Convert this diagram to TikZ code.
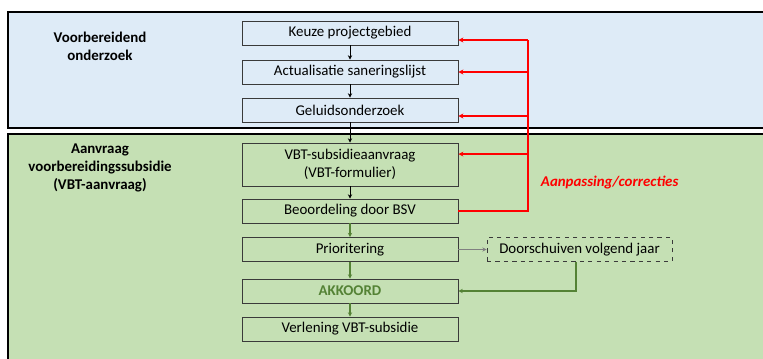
\documentclass[tikz,border=0pt]{standalone}
\usepackage{fontspec}
\setmainfont{Carlito}
\usepackage{xcolor}
\usepackage{tikz}
\usetikzlibrary{arrows.meta,positioning,calc}
\definecolor{PanelBlue}{HTML}{DEEBF7}
\definecolor{PanelGreen}{HTML}{C5E0B4}
\definecolor{OkGreen}{HTML}{548235}
\definecolor{BoxGray}{HTML}{3A3A3A}
\definecolor{FixRed}{HTML}{FF0000}

\begin{document}
\begin{tikzpicture}[
    stepbox/.style={rectangle, draw=BoxGray, line width=0.7pt, minimum width=5.4cm,
                    minimum height=0.6cm, inner sep=1pt, align=center, font=\fontsize{10.6}{12.5}\selectfont},
    panel/.style={draw=black, line width=2pt},
    phase/.style={font=\fontsize{10.6}{12.8}\selectfont\bfseries, align=center},
    flow/.style={-{Stealth[length=3pt,width=3pt]}, line width=0.5pt},
    okflow/.style={flow, draw=OkGreen, line width=0.8pt},
    fix/.style={draw=FixRed, line width=1pt},
    fixarrow/.style={fix, -{Stealth[length=3.5pt,width=3.5pt]}}
  ]
  \useasboundingbox (0,0) rectangle (19.075,-8.975);
  \clip (0,0) rectangle (19.075,-8.975);

  % fases
  \draw[panel, fill=PanelBlue] (0.2,-0.3) rectangle (19.6,-3.2);
  \draw[panel, fill=PanelGreen] (0.2,-3.35) rectangle (19.6,-9.5);
  \node[phase] (fase1) at (2.5,-1.15) {Voorbereidend\\onderzoek};
  \node[phase] (fase2) at (2.5,-4.2) {Aanvraag\\voorbereidingssubsidie\\(VBT-aanvraag)};

  % stappen
  \node[stepbox] (keuze) at (8.75,-0.825) {Keuze projectgebied};
  \node[stepbox] (actual) at (8.75,-1.8) {Actualisatie saneringslijst};
  \node[stepbox] (geluid) at (8.75,-2.75) {Geluidsonderzoek};
  \node[stepbox, minimum height=1.075cm] (vbt) at (8.75,-4.1125) {VBT-subsidieaanvraag\\(VBT-formulier)};
  \node[stepbox] (bsv) at (8.75,-5.275) {Beoordeling door BSV};
  \node[stepbox] (prio) at (8.75,-6.2375) {Prioritering};
  \node[stepbox, font=\fontsize{10.6}{12.5}\selectfont\bfseries, text=OkGreen] (akkoord) at (8.75,-7.275) {AKKOORD};
  \node[stepbox] (verlening) at (8.75,-8.225) {Verlening VBT-subsidie};
  \node[stepbox, dashed, minimum width=4.625cm] (door) at (14.4875,-6.2375) {Doorschuiven volgend jaar};

  % hoofdstroom
  \draw[flow] (keuze) -- (actual);
  \draw[flow] (actual) -- (geluid);
  \draw[flow] (geluid) -- (vbt);
  \draw[flow] (vbt) -- (bsv);
  \draw[okflow] (bsv) -- (prio);
  \draw[okflow] (prio) -- (akkoord);
  \draw[okflow] (akkoord) -- (verlening);
  \draw[flow, draw=gray] (prio) -- (door);
  \draw[okflow] (door.south -| 14.4,0) |- (akkoord.east);

  % terugkoppeling
  \coordinate (rtop) at (13.2,-1.0);
  \draw[fix] (bsv.east) -| (rtop);
  \draw[fixarrow] (rtop) -- (keuze.east |- rtop);
  \draw[fixarrow] (actual.east -| rtop) -- (actual.east);
  \draw[fixarrow] ($(geluid.east -| rtop)+(0,-0.15)$) -- ($(geluid.east)+(0,-0.15)$);
  \draw[fixarrow] ($(vbt.east -| rtop)+(0,0.26)$) -- ($(vbt.east)+(0,0.26)$);
  \node[font=\fontsize{10.6}{12.5}\selectfont\bfseries\itshape, text=FixRed, anchor=west] (corr) at (13.4,-4.575) {Aanpassing/correcties};
\end{tikzpicture}
\end{document}
